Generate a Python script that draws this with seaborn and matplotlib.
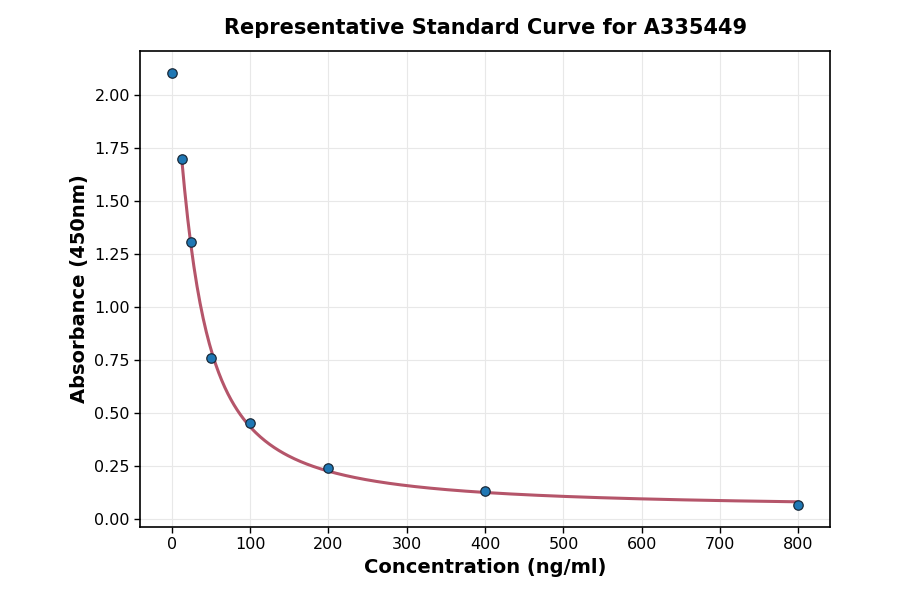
import numpy as np
import pandas as pd
import matplotlib
matplotlib.use("Agg")
import matplotlib.pyplot as plt
import seaborn as sns

concentration = [0, 12.5, 25, 50, 100, 200, 400, 800]
absorbance = [2.104, 1.699, 1.308, 0.762, 0.452, 0.240, 0.132, 0.066]

title = "Representative Standard Curve for A335449"
xlabel = "Concentration (ng/ml)"
ylabel = "Absorbance (450nm)"


def fourpl(x, p):
    a, b, c, d = p
    return d + (a - d) / (1.0 + (x / c) ** b)


def fit_4pl(x, y, p0):
    p = np.array(p0, dtype=float)
    lam = 1e-2
    def res(pp):
        return fourpl(x, pp) - y
    cost = np.sum(res(p) ** 2)
    for _ in range(500):
        r = res(p)
        J = np.zeros((len(x), len(p)))
        for j in range(len(p)):
            h = 1e-6 * max(abs(p[j]), 1e-3)
            pp = p.copy(); pp[j] += h
            J[:, j] = (res(pp) - r) / h
        A = J.T @ J
        g = J.T @ r
        step = np.linalg.solve(A + lam * np.diag(np.diag(A)), -g)
        pn = p + step
        if pn[2] <= 0:
            lam *= 10
            continue
        cn = np.sum(res(pn) ** 2)
        if cn < cost:
            p, cost = pn, cn
            lam = max(lam / 3, 1e-9)
        else:
            lam *= 5
    return p


x = np.array(concentration[1:], dtype=float)
y = np.array(absorbance[1:], dtype=float)
params = fit_4pl(x, y, [2.5, 1.0, 30.0, 0.05])
xs = np.linspace(x.min(), x.max(), 400)
curve = pd.DataFrame({"x": xs, "y": fourpl(xs, params)})
pts = pd.DataFrame({"x": concentration, "y": absorbance})

sns.set_style("white")
plt.rcParams['font.family'] = ['DejaVu Sans']
plt.rcParams['text.color'] = 'black'
plt.rcParams['axes.labelcolor'] = 'black'
plt.rcParams['xtick.color'] = 'black'
plt.rcParams['ytick.color'] = 'black'
fig = plt.figure(figsize=(9, 5.94), dpi=100)
ax = fig.add_axes([0.156, 0.113, 0.766, 0.801])

sns.lineplot(data=curve, x="x", y="y", ax=ax, color="#b5556a", linewidth=2.2, zorder=2)
sns.scatterplot(data=pts, x="x", y="y", ax=ax, color="#1f77b4", edgecolor="#1a2a3a",
                linewidth=0.9, s=46, zorder=3)

ax.grid(True, color="#e8e8e8", linewidth=0.8)
ax.set_axisbelow(True)
for s in ax.spines.values():
    s.set_visible(True)
    s.set_color("black")
    s.set_linewidth(1.2)
ax.tick_params(axis="both", which="major", direction="out", length=4, width=1,
               labelsize=11.5, bottom=True, left=True, color="black", labelcolor="black")
ax.set_xticks(np.arange(0, 801, 100))
ax.set_yticks(np.arange(0, 2.01, 0.25))
ax.set_yticklabels([f"{v:.2f}" for v in np.arange(0, 2.01, 0.25)])
ax.set_xlim(-40, 840)
ax.set_ylim(-0.036, 2.207)
ax.set_xlabel(xlabel, fontsize=14, fontweight="bold", color="black")
ax.set_ylabel(ylabel, fontsize=14, fontweight="bold", color="black")
ax.set_title(title, fontsize=15, fontweight="bold", pad=12, color="black")

fig.savefig("out.png", dpi=100)
